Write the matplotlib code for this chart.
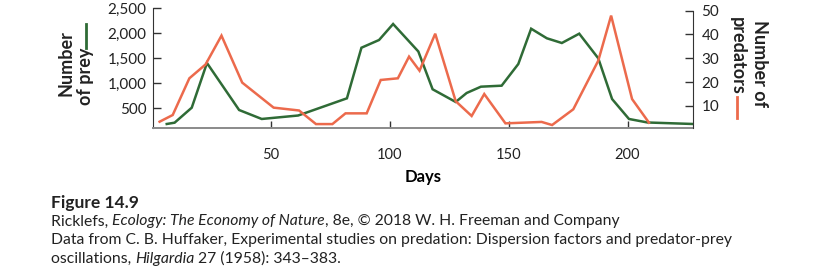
import matplotlib
matplotlib.use('Agg')
import matplotlib.pyplot as plt
from matplotlib.lines import Line2D

# prey (left axis) and predators (right axis)
prey_days = [6.4, 9.7, 16.9, 23.3, 36.8, 46.3, 61.6, 82.1, 88.2, 95.6, 101.5, 112.1, 118.1,
             127.8, 132.4, 138.4, 147.1, 154.1, 159.5, 166.1, 172.4, 179.7, 187.7, 193.5,
             200.6, 208.4, 227.5]
prey = [187, 213, 512, 1403, 466, 287, 356, 699, 1708, 1862, 2181, 1633, 879,
        626, 805, 931, 951, 1383, 2087, 1896, 1802, 1988, 1497, 685,
        287, 217, 187]

pred_days = [3.4, 8.9, 15.9, 22.7, 29.4, 38.1, 51.3, 62.0, 69.1, 76.0, 81.5, 90.4, 96.3, 103.5,
             108.2, 112.6, 119.2, 127.8, 134.5, 139.8, 148.7, 163.9, 168.3, 177.2, 187.7,
             193.1, 201.9, 209.0]
pred = [3.4, 6.2, 21.6, 27.4, 39.5, 19.8, 9.3, 8.1, 2.4, 2.4, 6.9, 6.9, 20.9, 21.6,
        30.7, 24.8, 40.3, 12.0, 5.8, 15.0, 2.7, 3.3, 2.0, 8.6, 29.0,
        47.9, 12.9, 3.0]

x_ticks = [50, 100, 150, 200]
prey_ticks = [500, 1000, 1500, 2000, 2500]
pred_ticks = [10, 20, 30, 40, 50]

# caption lines as (text, italic) pieces
caption = [
    [('Ricklefs, ', False), ('Ecology: The Economy of Nature', True),
     (', 8e, © 2018 W. H. Freeman and Company', False)],
    [('Data from C. B. Huffaker, Experimental studies on predation: Dispersion factors and predator-prey', False)],
    [('oscillations, ', False), ('Hilgardia', True), (' 27 (1958): 343–383.', False)],
]

green = '#2f6b36'
red = '#ec6a4c'
ink = '#222222'
W, H = 827, 275

font = 'Lato'

fig = plt.figure(figsize=(W/100, H/100), dpi=100)
ax = fig.add_axes([153.3/W, 1-128.3/H, (693-153.3)/W, (128.3-7.5)/H])
ax2 = ax.twinx()

ax.plot(prey_days, prey, color=green, lw=1.8, solid_joinstyle='miter')
ax2.plot(pred_days, pred, color=red, lw=1.8, solid_joinstyle='miter')

ax.set_xlim(0.75, 227.5)
ax.set_ylim(101, 2510)
ax2.set_ylim(0.63, 51.3)

ax.set_xticks(x_ticks)
ax.set_yticks(prey_ticks)
ax.set_yticklabels(['{:,}'.format(v) for v in prey_ticks])
ax2.set_yticks(pred_ticks)

for a in (ax, ax2):
    a.spines['top'].set_visible(False)
    a.patch.set_visible(False)
ax2.spines['left'].set_visible(False)
ax2.spines['bottom'].set_visible(False)
ax.spines['right'].set_visible(False)
ax.spines['bottom'].set_color('#8a8a8a')
ax.spines['bottom'].set_linewidth(1.4)
ax.spines['left'].set_color('#333333')
ax.spines['left'].set_bounds(101, 2500)
ax2.spines['right'].set_color('#333333')
ax2.spines['right'].set_bounds(0.63, 50)

ax.tick_params(axis='x', direction='in', length=5, width=1, colors='#333333', pad=14,
               labelsize=10.5, labelcolor=ink)
ax.tick_params(axis='y', direction='in', length=6, width=1, colors='#333333', pad=5,
               labelsize=11, labelcolor=ink)
ax2.tick_params(axis='y', direction='in', length=6, width=1, colors='#333333', pad=6,
                labelsize=11, labelcolor=ink)
for lab in ax.get_xticklabels() + ax.get_yticklabels() + ax2.get_yticklabels():
    lab.set_family(font)

ax.set_xlabel('Days', fontsize=12, fontweight='bold', family=font, labelpad=5)

def fx(px):
    return px / W

def fy(py):
    return 1 - py / H

# axis labels with their colour keys
lab_kw = dict(ha='center', va='center', fontsize=13, fontweight='bold', family=font, color=ink)
fig.text(fx(66), fy(63.5), 'Number', rotation=90, **lab_kw)
fig.text(fx(86), fy(76.5), 'of prey', rotation=90, **lab_kw)
fig.add_artist(Line2D([fx(86), fx(86)], [fy(24), fy(48)], transform=fig.transFigure,
                      color=green, lw=2))
fig.text(fx(759), fy(63.5), 'Number of', rotation=270, **lab_kw)
fig.text(fx(737), fy(56), 'predators', rotation=270, **lab_kw)
fig.add_artist(Line2D([fx(737), fx(737)], [fy(97), fy(118)], transform=fig.transFigure,
                      color=red, lw=2))

# caption
fig.text(fx(51), fy(203), 'Figure 14.9', ha='left', va='center', fontsize=12.5,
         fontweight='bold', family=font, color=ink)
renderer = fig.canvas.get_renderer()
for i, pieces in enumerate(caption):
    x = 51
    y = 221.5 + i * 18.5
    for txt, it in pieces:
        t = fig.text(fx(x), fy(y), txt, ha='left', va='center', fontsize=11.3, family=font,
                     style='italic' if it else 'normal', color=ink)
        x += t.get_window_extent(renderer).width

fig.savefig('out.png', dpi=100)
